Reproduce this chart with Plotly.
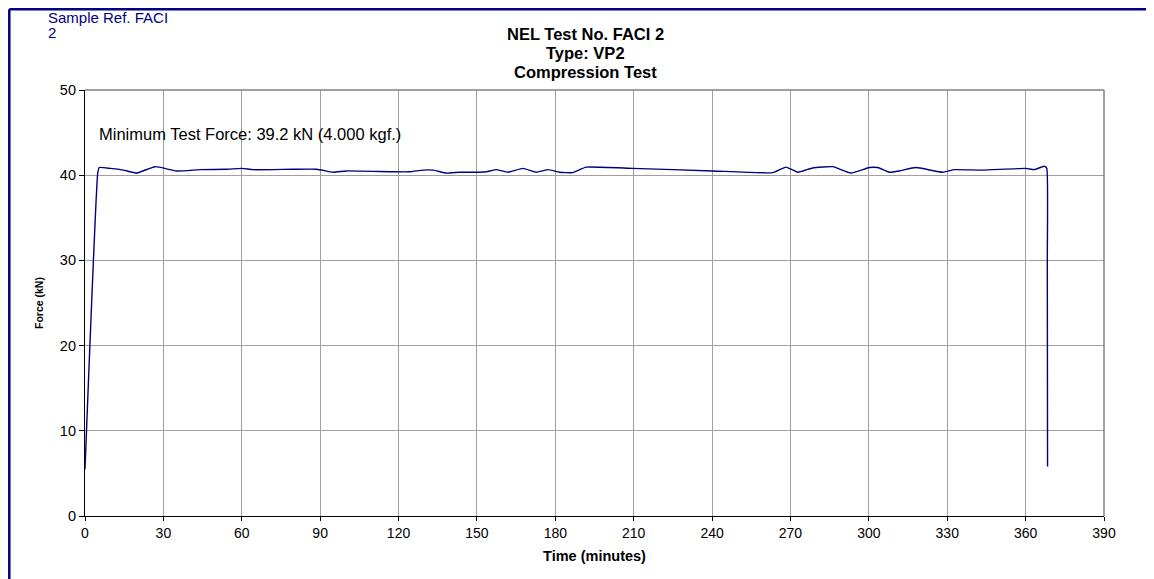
import plotly.graph_objects as go

time_min = [0, 4.9, 5.5, 9.6, 14.7, 19.8, 26.8, 35, 44, 54.2, 60, 64.4, 79.7, 88.6, 95, 100, 117.9,
            124.3, 129.4, 133.2, 138.3, 143.4, 149.8, 153.6, 157.4, 161.9, 167.6, 172.7, 177.2,
            181.6, 186.7, 191.8, 209.7, 240.3, 263.2, 268.3, 272.8, 278.5, 286.2, 293.2, 300.2,
            303.4, 307.8, 311.7, 318, 328.2, 332.7, 343.5, 360.1, 363.3, 367.1, 368.1, 368.3, 368.4]
force_kn = [5.5, 40.3, 40.9, 40.8, 40.6, 40.25, 41.0, 40.5, 40.65, 40.7, 40.8, 40.65, 40.7, 40.7, 40.35, 40.5, 40.4,
            40.4, 40.6, 40.6, 40.25, 40.35, 40.35, 40.4, 40.65, 40.35, 40.8, 40.35, 40.65,
            40.35, 40.3, 40.95, 40.8, 40.5, 40.3, 40.95, 40.35, 40.85, 41.0, 40.25, 40.9,
            40.9, 40.35, 40.5, 40.9, 40.35, 40.65, 40.6, 40.8, 40.65, 41.05, 40.8, 30.0, 5.8]

x_ticks = list(range(0, 391, 30))
y_ticks = list(range(0, 51, 10))
title_lines = ["NEL Test No. FACI 2", "Type: VP2", "Compression Test"]

FONT = "Liberation Sans, Arial, sans-serif"
NAVY = "#000080"

# plot area in page pixels: x 85..1104, y 90..516 (figure sits at an 8px body offset)
PL, PT, PW, PH = 85, 90, 1019, 426
OFF = 8

def px(x):
    return (x - PL) / PW

def py(y):
    return (PT + PH - y) / PH

fig = go.Figure()
fig.add_trace(go.Scatter(x=time_min, y=force_kn, mode="lines",
                         line=dict(color=NAVY, width=1.4, shape="spline", smoothing=0.4),
                         showlegend=False, hoverinfo="skip"))

fig.update_layout(
    width=1154, height=579,
    margin=dict(l=PL - OFF, r=1154 - (PL - OFF) - PW, t=PT - OFF, b=579 - (PT - OFF) - PH),
    paper_bgcolor="white", plot_bgcolor="white",
    font=dict(family=FONT, size=14, color="black"),
)
fig.update_xaxes(range=[0, 390], tickvals=x_ticks, showgrid=True, gridcolor="#a0a0a0", gridwidth=1.2,
                 showline=True, linecolor="black", linewidth=1.2, mirror=False,
                 ticks="outside", ticklen=4, tickcolor="black", zeroline=False,
                 title=dict(text="<b>Time (minutes)</b>", font=dict(size=14.5), standoff=10),
                 tickfont=dict(size=14))
fig.update_yaxes(range=[0, 50], tickvals=y_ticks, showgrid=True, gridcolor="#a0a0a0", gridwidth=1.2,
                 showline=True, linecolor="black", linewidth=1.2, mirror=False,
                 ticks="outside", ticklen=5, tickcolor="black", zeroline=False,
                 tickfont=dict(size=14.5))

# plot area top/right gray border
fig.add_shape(type="line", xref="paper", yref="paper", x0=0, x1=1, y0=1, y1=1,
              line=dict(color="#808080", width=1.5))
fig.add_shape(type="line", xref="paper", yref="paper", x0=1, x1=1, y0=0, y1=1,
              line=dict(color="#808080", width=1.5))

# outer navy frame (top and left edges visible)
FR = 9.3
fig.add_shape(type="line", xref="paper", yref="paper", x0=px(FR), x1=1.2, y0=py(FR), y1=py(FR),
              line=dict(color=NAVY, width=2.5))
fig.add_shape(type="line", xref="paper", yref="paper", x0=px(FR), x1=px(FR), y0=py(FR), y1=-0.3,
              line=dict(color=NAVY, width=2.5))

# title lines (centred on the chart area)
for line, yc in zip(title_lines, [34, 53, 72]):
    fig.add_annotation(text="<b>" + line + "</b>", xref="paper", yref="paper",
                       x=px(585), y=py(yc), xanchor="center", yanchor="middle",
                       showarrow=False, font=dict(family=FONT, size=16.5, color="black"))

# y axis title
fig.add_annotation(text="<b>Force (kN)</b>", xref="paper", yref="paper",
                   x=px(39), y=py(303), xanchor="center", yanchor="middle", textangle=-90,
                   showarrow=False, font=dict(family=FONT, size=10.5, color="black"))

fig.add_annotation(text="Sample Ref. FACI", xref="paper", yref="paper",
                   x=px(46), y=py(17), xanchor="left", yanchor="middle",
                   showarrow=False, font=dict(family=FONT, size=15, color=NAVY))
fig.add_annotation(text="2", xref="paper", yref="paper",
                   x=px(46), y=py(33), xanchor="left", yanchor="middle",
                   showarrow=False, font=dict(family=FONT, size=15, color=NAVY))
fig.add_annotation(text="Minimum Test Force: 39.2 kN (4.000 kgf.)", xref="paper", yref="paper",
                   x=px(97), y=py(134), xanchor="left", yanchor="middle",
                   showarrow=False, font=dict(family=FONT, size=16.5, color="black"))

fig.write_html("out.html")
